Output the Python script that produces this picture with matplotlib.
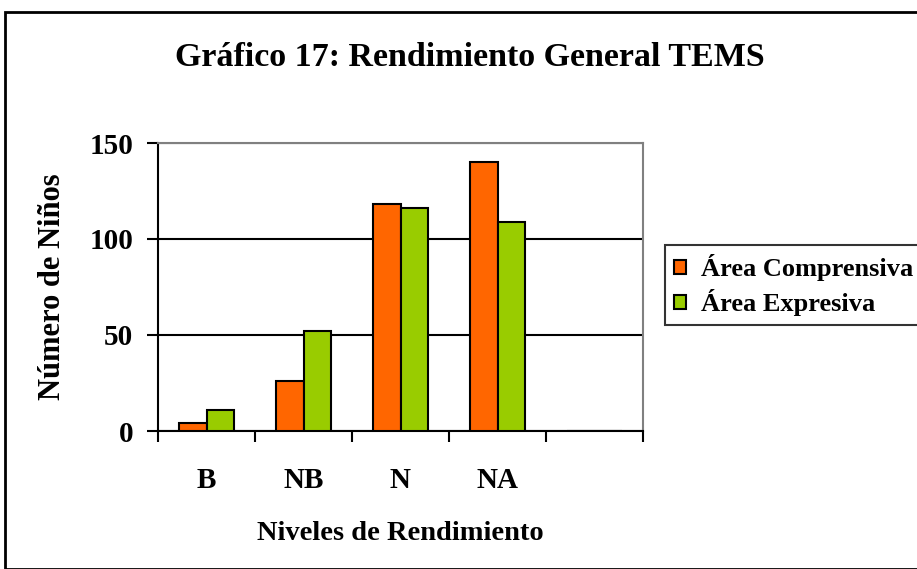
import matplotlib.pyplot as plt
import numpy as np
from matplotlib.patches import Rectangle

plt.rcParams['font.family'] = ['Liberation Serif', 'DejaVu Serif']
plt.rcParams['font.weight'] = 'bold'

# data
categorias = ['B', 'NB', 'N', 'NA', '']
comprensiva = [4, 26, 118, 140, 0]
expresiva = [11, 52, 116, 109, 0]
series = ['Área Comprensiva', 'Área Expresiva']
colores = ['#FF6600', '#99CC00']

fig = plt.figure(figsize=(9.17, 5.69), dpi=100)
W, H = 917, 569

# outer chart border
fig.patches.append(Rectangle((5 / W, 0), 1, 1 - 12 / H, transform=fig.transFigure,
                             fill=False, edgecolor='black', linewidth=2))

ax = fig.add_axes([158 / W, 1 - 431 / H, (643 - 158) / W, (431 - 143) / H])

x = np.arange(len(categorias))
w = 0.285
ax.bar(x - w / 2, comprensiva, w, color=colores[0], edgecolor='black',
       linewidth=1.5, label=series[0], zorder=3)
ax.bar(x + w / 2, expresiva, w, color=colores[1], edgecolor='black',
       linewidth=1.5, label=series[1], zorder=3)

ax.set_xlim(-0.5, len(categorias) - 0.5)
ax.set_ylim(0, 150)
ax.set_yticks([0, 50, 100, 150])
ax.yaxis.grid(True, color='black', linewidth=1.5, zorder=1)
ax.set_axisbelow(True)

ax.set_xticks(x)
ax.set_xticklabels(categorias, fontsize=21, fontweight='bold')
ax.set_xticks(np.arange(-0.5, len(categorias)), minor=True)
ax.tick_params(axis='x', which='major', length=0, pad=26)
ax.tick_params(axis='x', which='minor', length=8, width=1.5, direction='out')
ax.tick_params(axis='y', length=8, width=1.5, labelsize=21, pad=10)
for t in ax.get_yticklabels():
    t.set_fontweight('bold')

for s in ['left', 'bottom']:
    ax.spines[s].set_color('black')
    ax.spines[s].set_linewidth(1.5)
for s in ['top', 'right']:
    ax.spines[s].set_color('#808080')
    ax.spines[s].set_linewidth(1.5)

ax.set_ylabel('Número de Niños', fontsize=22, fontweight='bold', labelpad=16)
ax.set_xlabel('Niveles de Rendimiento', fontsize=20.5, fontweight='bold', labelpad=19)

fig.text(470 / W, 1 - 57 / H, 'Gráfico 17: Rendimiento General TEMS',
         ha='center', va='center', fontsize=24.5, fontweight='bold')

leg = fig.legend(loc='upper left', bbox_to_anchor=(665 / W, 1 - 245 / H),
                 frameon=True, fancybox=False, fontsize=19,
                 handlelength=0.45, handleheight=0.45, handletextpad=0.55,
                 borderpad=0.35, labelspacing=0.3, borderaxespad=0)
leg.get_frame().set_edgecolor('black')
leg.get_frame().set_linewidth(1.5)
for t in leg.get_texts():
    t.set_fontweight('bold')

fig.savefig('out.png', dpi=100)
